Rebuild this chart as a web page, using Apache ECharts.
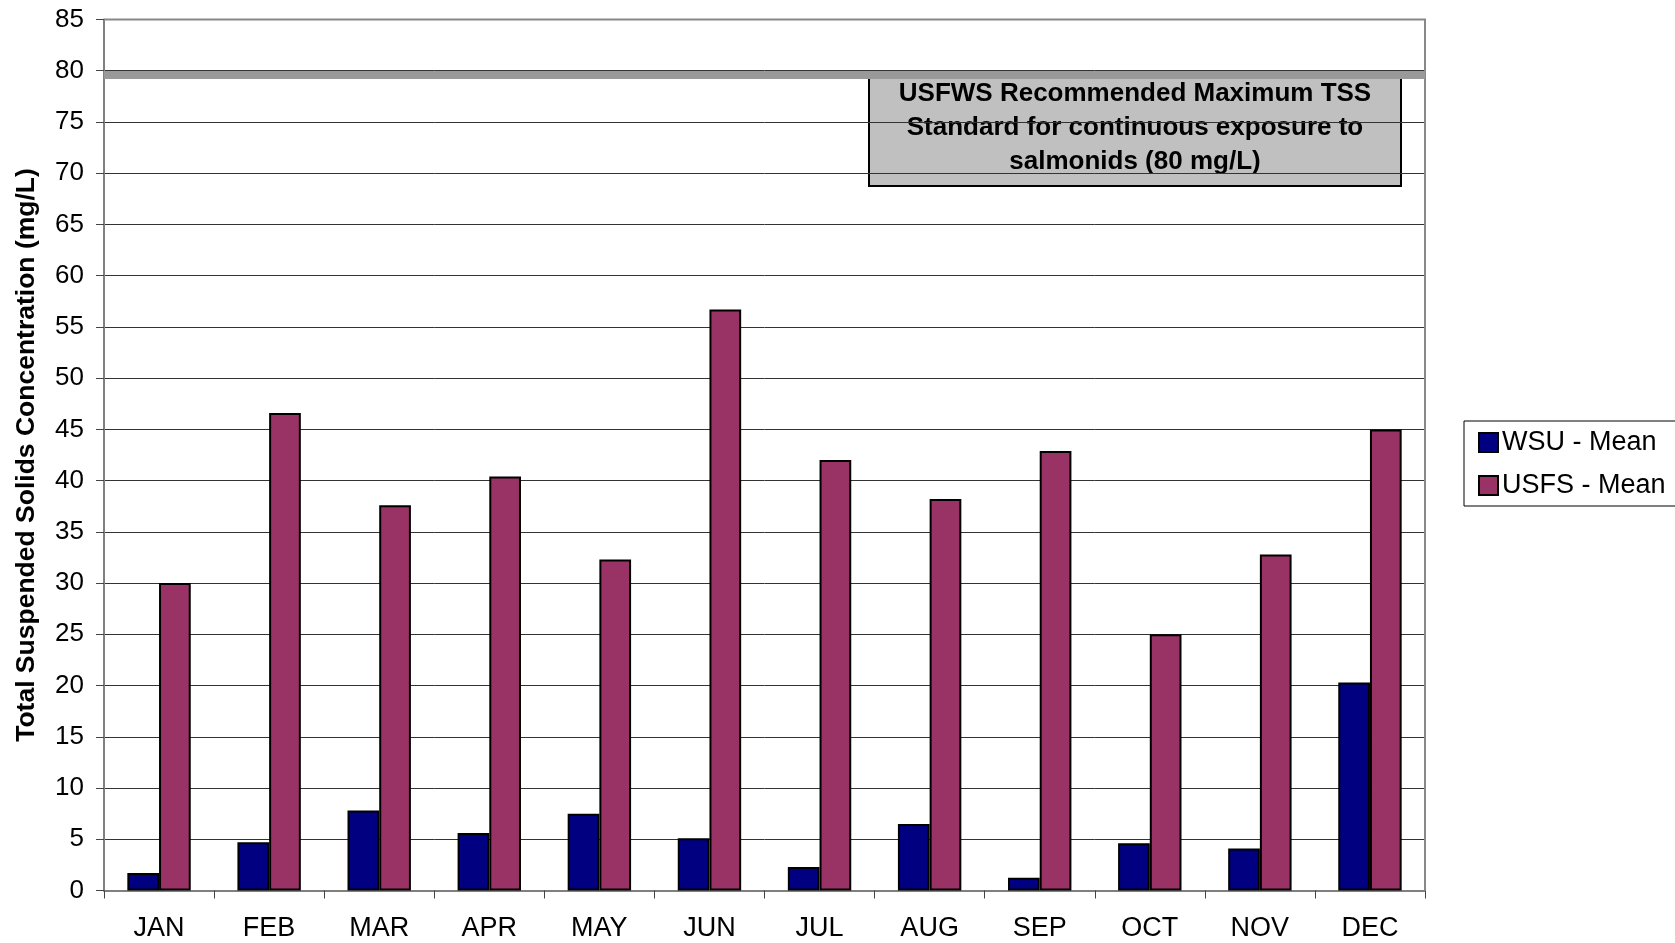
<!DOCTYPE html>
<html>
<head>
<meta charset="utf-8">
<script src="https://cdn.jsdelivr.net/npm/echarts@6/dist/echarts.min.js"></script>
<style>
  html, body { margin: 0; padding: 0; background: #fff; }
  #tss { width: 1675px; height: 943px; }
</style>
</head>
<body>
<div id="tss"></div>
<script>
var months = ['JAN', 'FEB', 'MAR', 'APR', 'MAY', 'JUN', 'JUL', 'AUG', 'SEP', 'OCT', 'NOV', 'DEC'];
var wsuMean = [1.7, 4.7, 7.8, 5.6, 7.5, 5.1, 2.3, 6.5, 1.25, 4.6, 4.1, 20.3];
var usfsMean = [30.0, 46.6, 37.6, 40.4, 32.3, 56.7, 42.0, 38.2, 42.9, 25.0, 32.8, 45.0];
var standard = 80;
var noteLines = ['USFWS Recommended Maximum TSS', 'Standard for continuous exposure to', 'salmonids (80 mg/L)'];

var font = '"Liberation Sans", Arial, sans-serif';
var chart = echarts.init(document.getElementById('tss'));

var option = {
    backgroundColor: '#fff',
    animation: false,
    textStyle: { fontFamily: font },
    grid: { left: 104, right: 250, top: 19.5, bottom: 52.5, containLabel: false },
    legend: {
        orient: 'vertical',
        left: 1464,
        top: 421,
        width: 260,
        padding: [8, 40, 7, 14],
        itemGap: 16,
        itemWidth: 19,
        itemHeight: 19,
        icon: 'rect',
        borderColor: '#000',
        borderWidth: 1,
        textStyle: { fontSize: 27, color: '#000', fontFamily: font, padding: [0, 0, 0, -1] },
        data: ['WSU - Mean', 'USFS - Mean']
    },
    xAxis: {
        type: 'category',
        data: months,
        axisLine: { lineStyle: { color: '#808080', width: 2 } },
        axisTick: { show: true, length: 8, lineStyle: { color: '#444', width: 1 } },
        axisLabel: { fontSize: 27, color: '#000', margin: 25, fontFamily: font },
        splitLine: { show: false }
    },
    yAxis: {
        type: 'value',
        min: 0,
        max: 85,
        interval: 5,
        name: 'Total Suspended Solids Concentration (mg/L)',
        nameLocation: 'middle',
        nameGap: 64,
        nameTextStyle: { fontSize: 26.5, fontWeight: 'bold', color: '#000', fontFamily: font },
        axisLine: { show: true, lineStyle: { color: '#808080', width: 2 } },
        axisTick: { show: true, length: 8, lineStyle: { color: '#444' } },
        axisLabel: { fontSize: 26, color: '#000', margin: 20, fontFamily: font },
        splitLine: { show: true, lineStyle: { color: '#333', width: 1 } }
    },
    series: [
        {
            name: 'WSU - Mean',
            type: 'bar',
            data: wsuMean,
            barWidth: '28.8%',
            barGap: '0%',
            itemStyle: { color: '#000080', borderColor: '#000', borderWidth: 2 },
            markLine: {
                silent: true,
                symbol: 'none',
                label: { show: false },
                lineStyle: { color: '#999', width: 8, type: 'solid' },
                data: [{ yAxis: standard - 0.4 }]
            }
        },
        {
            name: 'USFS - Mean',
            type: 'bar',
            data: usfsMean,
            barWidth: '28.8%',
            barGap: '0%',
            itemStyle: { color: '#993366', borderColor: '#000', borderWidth: 2 }
        }
    ],
    graphic: [
        {
            // top and right frame of the plot area
            type: 'polyline',
            shape: { points: [[104, 19.5], [1425, 19.5], [1425, 890.5]] },
            style: { stroke: '#888', lineWidth: 2, fill: null },
            z: 5
        },
        {
            type: 'group',
            left: 868,
            top: 75,
            z: 10,
            children: [
                {
                    type: 'rect',
                    shape: { x: 0, y: 0, width: 532, height: 110 },
                    style: { fill: '#c0c0c0', stroke: '#000', lineWidth: 2 }
                },
                {
                    type: 'text',
                    x: 266,
                    y: 51.5,
                    style: {
                        text: noteLines.join('\n'),
                        fontSize: 26,
                        fontWeight: 'bold',
                        fontFamily: font,
                        fill: '#000',
                        align: 'center',
                        verticalAlign: 'middle',
                        lineHeight: 34
                    }
                }
            ]
        }
    ]
};

option && chart.setOption(option);
</script>
</body>
</html>
